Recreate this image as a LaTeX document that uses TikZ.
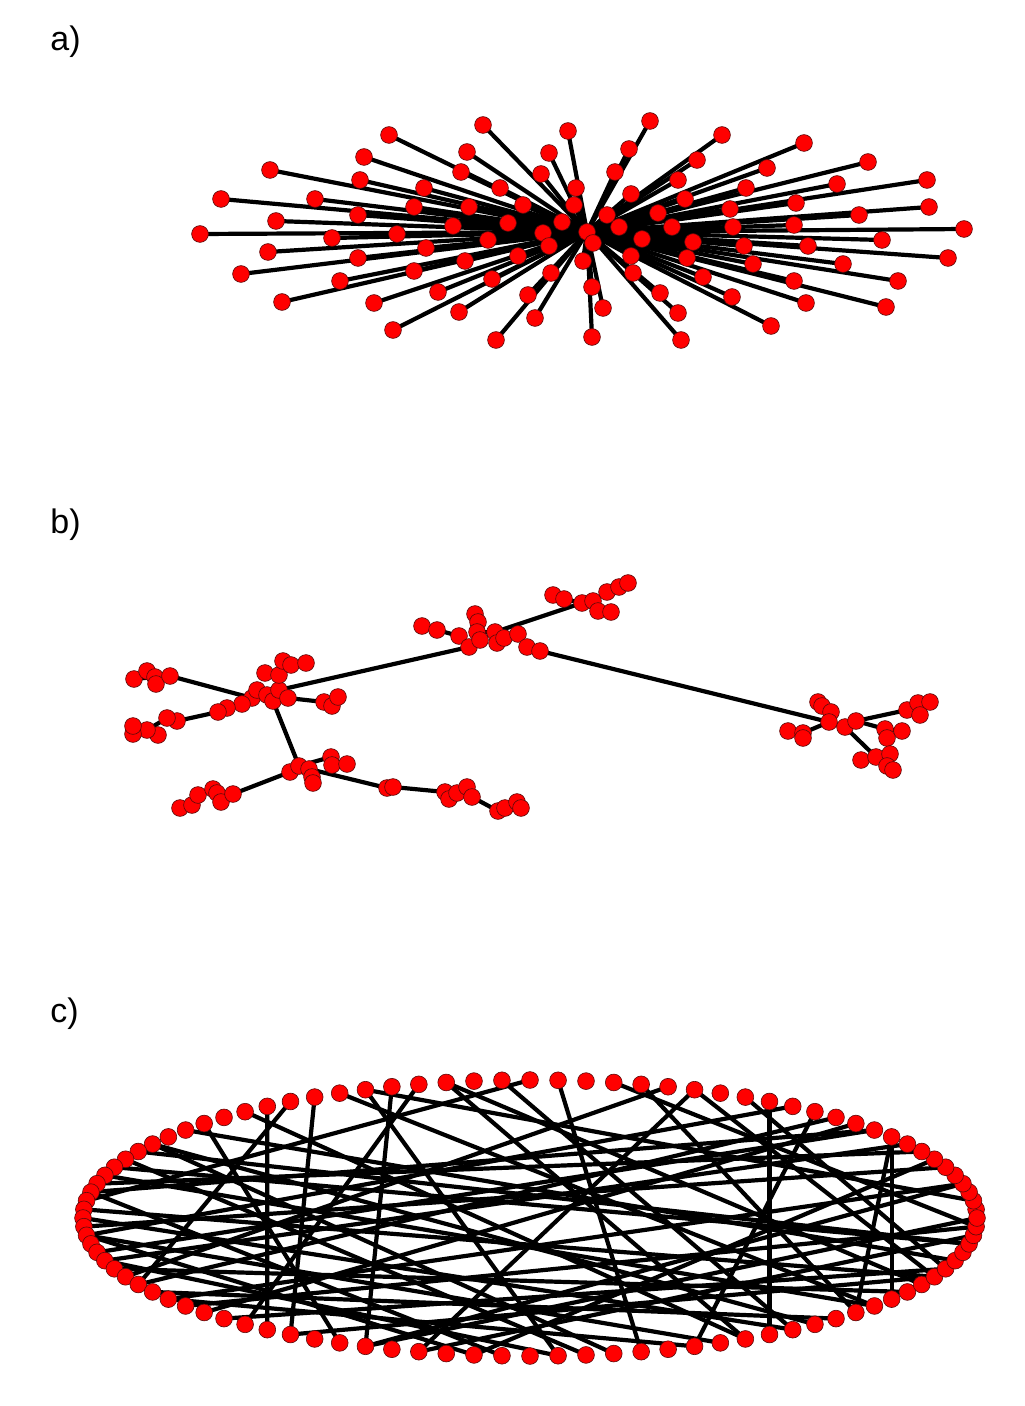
\documentclass[tikz,border=0pt]{standalone}
\usepackage{fontspec}
\setmainfont{Liberation Sans}
\usetikzlibrary{backgrounds}
\definecolor{Dot}{HTML}{FF0000}
\definecolor{Rim}{HTML}{5A0A0A}
\tikzset{
  dot/.style={circle,fill=Dot,draw=Rim,line width=0.3pt,inner sep=0pt,minimum size=8.4pt},
  link/.style={line width=2.1pt,black},
  tag/.style={anchor=base west,inner sep=0pt,font=\fontsize{17}{20}\selectfont}
}
\begin{document}
\begin{tikzpicture}[x=0.5pt,y=-0.5pt]
  \useasboundingbox (0,0) rectangle (1024,1406);
  \node[tag] (taga) at (50,51) {a)};
  \node[tag] (tagb) at (50,533) {b)};
  \node[tag] (tagc) at (50,1022) {c)};

  \node[dot] (a0) at (587,232) {};
  \foreach \x/\y [count=\i] in {483/125,568/131,389/135,467/152,549/153,364/157,270/170,541/174,461/172,360/180,
      424/188,500/188,576/188,221/199,315/199,523/205,574/205,414/207,469/207,358/215,
      276/221,562/222,508/223,453/226,200/234,332/238,397/234,543/233,593/243,488/240,
      549/246,426/248,268/252,358/258,465/261,518/256,583/261,241/274,414/271,340/281,
      551/273,492/279,592/287,438/292,282/302,374/303,528/295,603/308,459/312,535/318,
      393/330,496/340,592/337,650/121,722/135,804/143,629/149,868/162,697/160,767/168,
      615/172,927/180,678/180,837/184,746/188,631/194,685/199,796/203,929/207,730/209,
      658/213,859/215,607/215,619/227,672/227,794/225,733/227,964/229,642/239,882/240,
      693/242,808/246,744/246,631/256,687/258,948/258,753/264,843/264,633/273,703/277,
      898/281,794/281,660/293,732/297,806/303,886/307,678/313,771/326,681/340}
    \node[dot] (a\i) at (\x,\y) {};
  \begin{scope}[on background layer]
    \foreach \i in {1,...,99} \draw[link] (a0.center) -- (a\i.center);
  \end{scope}

  \foreach \x/\y [count=\i] in {134/679,147/671,155/677,156/684,170/676,252/698,257/690,267/695,273/701,279/690,
      288/698,265/673,279/675,283/661,291/665,306/663,324/702,332/706,338/697,242/704,
      227/708,218/712,177/721,167/718,158/735,147/730,133/734,133/726,290/772,299/766,
      309/769,312/777,313/783,331/757,332/765,347/764,180/808,192/805,198/795,213/789,
      217/793,221/802,233/794,387/788,393/787,445/792,449/799,457/793,467/787,472/797,
      498/811,505/808,517/802,521/808,422/626,437/630,459/636,469/647,475/614,478/622,
      477/632,480/640,495/632,497/643,504/638,518/634,527/647,540/651,553/595,564/599,
      582/603,593/601,598/611,611/612,607/592,619/587,628/583,818/702,822/706,831/712,
      829/722,845/727,856/721,788/731,803/733,803/738,885/729,902/731,887/738,907/710,
      918/703,930/702,920/715,861/760,876/757,890/754,887/766,893/770}
    \node[dot] (b\i) at (\x,\y) {};
  \begin{scope}[on background layer]
    \foreach \p/\q in {1/3,2/3,3/4,3/5,5/6,6/8,7/8,8/9,8/10,10/11,12/13,13/10,14/15,15/16,15/13,
        11/17,17/18,18/19,6/20,20/21,21/22,22/23,23/24,24/26,26/25,26/27,27/28,
        9/30,30/29,30/31,31/32,32/33,30/34,34/35,35/36,29/43,43/41,41/40,40/39,39/38,38/37,41/42,
        31/44,44/45,45/46,46/47,46/48,48/49,49/50,50/51,51/52,52/53,53/54,
        10/58,55/56,56/57,57/58,58/62,62/61,61/60,60/59,61/63,63/65,64/65,65/66,66/67,67/68,
        63/71,71/70,70/69,71/72,72/73,73/74,72/75,75/76,76/77,68/81,
        81/80,80/79,79/78,81/82,82/83,81/85,85/84,85/86,83/87,87/88,87/89,83/90,90/91,91/92,90/93,
        82/95,95/94,95/96,96/97,97/98}
      \draw[link] (b\p.center) -- (b\q.center);
  \end{scope}

  \foreach \i in {1,...,100}
    \node[dot] (c\i) at ({530+447*cos(3.6*\i)},{1218-138*sin(3.6*\i)}) {};
  \begin{scope}[on background layer]
    \foreach \p/\q in {16/84,10/90,10/88,30/69,33/66,35/65,38/68,2/31,4/60,7/73,9/55,11/47,12/62,
        14/81,15/52,17/94,19/71,20/57,21/88,22/99,24/79,25/48,26/85,28/92,29/64,31/76,34/58,
        36/83,39/95,41/86,42/97,43/77,45/89,46/8,47/74,49/93,51/6,52/82,54/11,56/91,58/13,
        59/87,61/99,63/94,66/93,69/4,71/98,73/52,76/55,78/41,81/60,83/28,85/50,89/32,93/19,
        97/44,100/69}
      \draw[link] (c\p.center) -- (c\q.center);
  \end{scope}
\end{tikzpicture}
\end{document}
